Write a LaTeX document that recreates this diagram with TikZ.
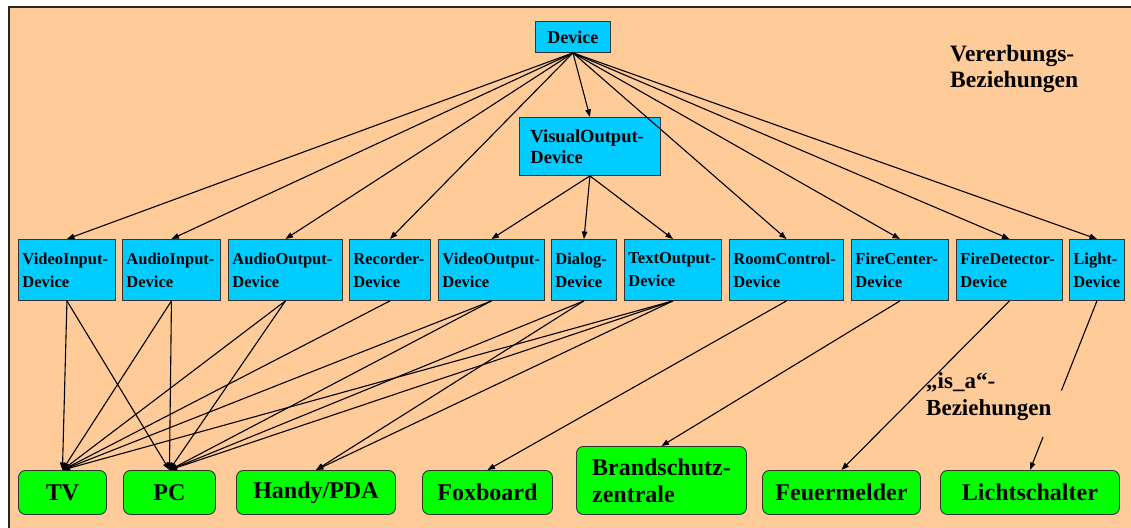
\documentclass[tikz,border=0pt]{standalone}
\usepackage{fontspec}
\setmainfont{Liberation Serif}
\usetikzlibrary{arrows.meta,calc}

\definecolor{panel}{HTML}{FFCC99}
\definecolor{devcyan}{HTML}{00CCFF}
\definecolor{hwgreen}{HTML}{00FF00}
\definecolor{boxline}{HTML}{333333}

\tikzset{
  boxbase/.style={draw=boxline, line width=0.9pt, rectangle, anchor=north west},
  cls/.style={boxbase, fill=devcyan, inner xsep=4pt, inner ysep=0pt, align=left,
    minimum height=61pt, font=\fontsize{16.5}{23}\selectfont\bfseries},
  rootcls/.style={boxbase, fill=devcyan, inner sep=0pt, align=center,
    minimum width=75pt, minimum height=31pt, font=\fontsize{18}{22}\selectfont\bfseries},
  viscls/.style={boxbase, fill=devcyan, inner xsep=11pt, inner ysep=0pt, align=left,
    text width=119pt, minimum height=58pt, font=\fontsize{18.5}{21}\selectfont\bfseries},
  hw/.style={boxbase, fill=hwgreen, rounded corners=7pt, inner sep=0pt, align=center,
    minimum height=44pt, font=\fontsize{24}{27}\selectfont\bfseries},
  note/.style={anchor=north west, inner sep=0pt, align=left,
    font=\fontsize{23.5}{26.5}\selectfont\bfseries},
  inh/.style={-{Triangle[length=7.5pt,width=5.5pt]}, line width=1.1pt, black},
  plain/.style={line width=1.1pt, black},
}

\begin{document}
\begin{tikzpicture}[x=1pt,y=-1pt]
  \useasboundingbox (0,0) rectangle (1131,527);
  \clip (0,0) rectangle (1131,527);
  \fill[white] (0,0) rectangle (1131,527);
  % background panel
  \draw[fill=panel, draw=black!85, line width=1.2pt] (9,7) rectangle (1145,540);

  % root class
  \node[rootcls] (dev) at (535,21) {Device};
  \node[viscls] (vis) at (519,117) {VisualOutput-\\Device};

  % device classes
  \node[cls, text width=89pt]  (vin)   at (18,239)   {VideoInput-\\Device};
  \node[cls, text width=90pt]  (ain)   at (122,239)  {AudioInput-\\Device};
  \node[cls, text width=106pt] (aout)  at (228,239)  {AudioOutput-\\Device};
  \node[cls, text width=73pt]  (rec)   at (349,239)  {Recorder-\\Device};
  \node[cls, text width=98pt]  (vout)  at (438,239)  {VideoOutput-\\Device};
  \node[cls, text width=57pt]  (dlg)   at (551,239)  {Dialog-\\Device};
  \node[cls, text width=89pt]  (tout)  at (624,239)  {TextOutput-\\Device};
  \node[cls, text width=106pt] (room)  at (729,239)  {RoomControl-\\Device};
  \node[cls, text width=89pt]  (fcen)  at (851,239)  {FireCenter-\\Device};
  \node[cls, text width=98pt]  (fdet)  at (956,239)  {FireDetector-\\Device};
  \node[cls, text width=47pt]  (light) at (1069,239) {Light-\\Device};

  % concrete hardware
  \node[hw, minimum width=88pt]  (tv)    at (18,470)  {TV};
  \node[hw, minimum width=92pt]  (pc)    at (123,470) {PC};
  \node[hw, minimum width=159pt] (handy) at (236,470) {Handy/PDA};
  \node[hw, minimum width=130pt] (fox)   at (422,470) {Foxboard};
  \node[hw, minimum width=170pt, minimum height=68pt, align=left] (brand) at (576,446) {Brandschutz-\\zentrale};
  \node[hw, minimum width=158pt] (feuer) at (762,470) {Feuermelder};
  \node[hw, minimum width=179pt] (licht) at (940,470) {Lichtschalter};

  % captions
  \node[note] (vererb) at (950,44.5) {Vererbungs-\\Beziehungen};
  \node[note, font=\fontsize{23}{27}\selectfont\bfseries] (isa) at (926,372) {„is\_a“-\\Beziehungen};

  % inheritance
  \foreach \t in {vin,ain,aout,rec,vis,room,fcen,fdet,light}
    \draw[inh] (dev.south) -- (\t.north);
  \foreach \t in {vout,dlg,tout}
    \draw[inh] (vis.south) -- (\t.north);

  % is_a relations
  \foreach \s/\t in {vin/tv, vin/pc, ain/tv, ain/pc, aout/tv, aout/pc, rec/tv,
                     vout/tv, vout/pc, dlg/pc, dlg/handy, tout/tv, tout/pc, tout/handy,
                     room/fox, fcen/brand, fdet/feuer}
    \draw[inh] (\s.south) -- (\t.north);
  % this one passes behind the caption
  \draw[plain] (light.south) -- ($(light.south)!0.53!(licht.north)$);
  \draw[inh] ($(light.south)!0.805!(licht.north)$) -- (licht.north);
\end{tikzpicture}
\end{document}
